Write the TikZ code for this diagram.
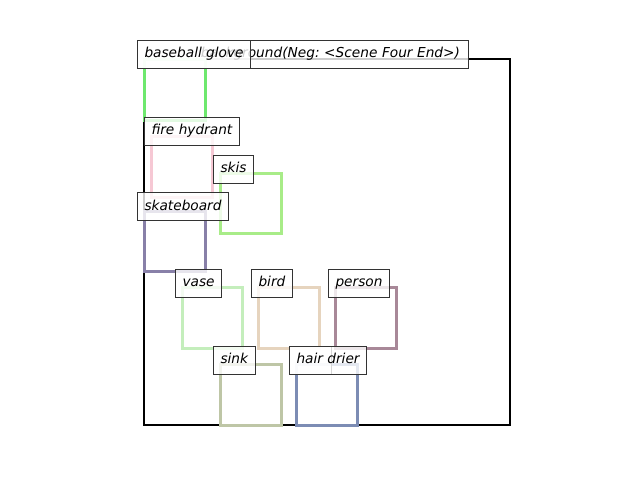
\documentclass[tikz,border=0pt]{standalone}
\usepackage{fontspec}
\setmainfont{DejaVu Sans}
\frenchspacing
\definecolor{cglove}{RGB}{110,232,110}
\definecolor{chydrant}{RGB}{246,200,212}
\definecolor{cskis}{RGB}{168,236,136}
\definecolor{cskate}{RGB}{136,128,168}
\definecolor{cvase}{RGB}{196,238,188}
\definecolor{cbird}{RGB}{230,212,190}
\definecolor{cperson}{RGB}{168,136,152}
\definecolor{csink}{RGB}{190,198,166}
\definecolor{cdrier}{RGB}{124,140,180}
\tikzset{
  objbox/.style={line width=3pt},
  lbl/.style={draw=black!80, line width=1pt, fill=white, fill opacity=0.8, text opacity=1,
    inner xsep=7pt, inner ysep=0pt, minimum height=28pt, anchor=west,
    text height=10pt, text depth=3pt,
    font=\fontsize{13.7}{16}\selectfont\itshape\frenchspacing, text=black},
}
\begin{document}
\begin{tikzpicture}[x=1pt,y=-1pt]
\useasboundingbox (0,0) rectangle (640,480);
% background
\draw[line width=2.2pt, black] (144,59) rectangle (510,425);
% object boxes
\draw[objbox, cglove] (144,59) rectangle (205,120);
\draw[objbox, chydrant] (151,136) rectangle (212,197);
\draw[objbox, cskis] (220,173) rectangle (281,233);
\draw[objbox, cskate] (144,211) rectangle (205,271);
\draw[objbox, cvase] (182,287) rectangle (242,348);
\draw[objbox, cbird] (258,287) rectangle (319,348);
\draw[objbox, cperson] (335,287) rectangle (396,348);
\draw[objbox, csink] (220,364) rectangle (281,425);
\draw[objbox, cdrier] (296,364) rectangle (357,425);
% labels
\node[lbl, minimum width=331pt, text width=314pt, align=right] (lbg) at (137,54) {background(Neg: <Scene Four End>)};
\node[lbl] (lglove) at (137,54) {baseball glove};
\node[lbl] (lhydrant) at (144,131) {fire hydrant};
\node[lbl] (lskis) at (213,169) {skis};
\node[lbl] (lskate) at (137,206.5) {skateboard};
\node[lbl] (lvase) at (175,283) {vase};
\node[lbl] (lbird) at (251,283) {bird};
\node[lbl] (lperson) at (328,283) {person};
\node[lbl] (lsink) at (213,360) {sink};
\node[lbl, minimum width=42pt] (lhidden) at (289,360) {};
\node[lbl] (ldrier) at (289,360) {hair drier};
\end{tikzpicture}
\end{document}
